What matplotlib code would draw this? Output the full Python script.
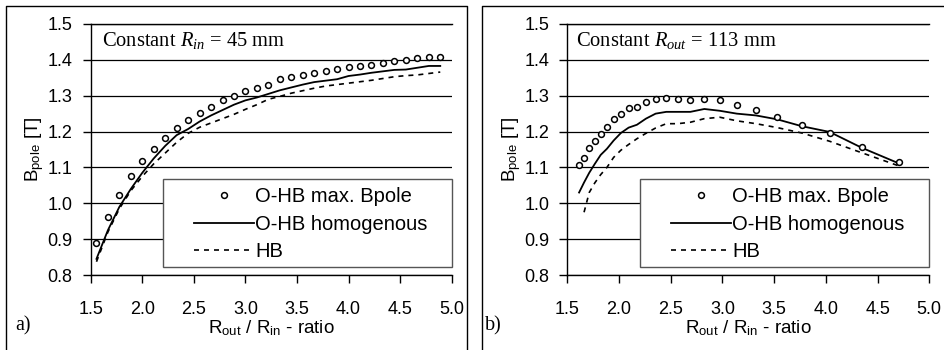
import matplotlib
matplotlib.use("Agg")
import matplotlib.pyplot as plt
from matplotlib.lines import Line2D
from matplotlib.patches import Rectangle

plt.rcParams['font.family'] = ['Liberation Sans', 'DejaVu Sans']
plt.rcParams['mathtext.fontset'] = 'custom'
plt.rcParams['mathtext.rm'] = 'Liberation Sans'
plt.rcParams['mathtext.it'] = 'Liberation Serif:italic'

# ---------------- data: panel a) constant Rin = 45 mm ----------------
xa = [1.556, 1.667, 1.778, 1.889, 2.000, 2.111, 2.222, 2.333, 2.444, 2.556,
      2.667, 2.778, 2.889, 3.000, 3.111, 3.222, 3.333, 3.444, 3.556, 3.667,
      3.778, 3.889, 4.000, 4.111, 4.222, 4.333, 4.444, 4.556, 4.667, 4.778, 4.889]
a_max = [0.890, 0.963, 1.023, 1.075, 1.118, 1.152, 1.183, 1.209, 1.231, 1.252,
         1.268, 1.287, 1.300, 1.313, 1.321, 1.331, 1.346, 1.351, 1.357, 1.363,
         1.369, 1.374, 1.379, 1.383, 1.387, 1.391, 1.396, 1.400, 1.405, 1.407, 1.408]
a_hom = [0.845, 0.925, 0.990, 1.040, 1.085, 1.125, 1.160, 1.190, 1.207, 1.228,
         1.245, 1.260, 1.275, 1.287, 1.295, 1.305, 1.315, 1.323, 1.331, 1.338,
         1.342, 1.346, 1.355, 1.359, 1.364, 1.368, 1.372, 1.373, 1.378, 1.383, 1.383]
a_hb = [0.837, 0.920, 0.985, 1.035, 1.075, 1.110, 1.140, 1.170, 1.195, 1.212,
        1.224, 1.236, 1.248, 1.262, 1.275, 1.290, 1.298, 1.307, 1.314, 1.321,
        1.327, 1.331, 1.335, 1.339, 1.343, 1.348, 1.353, 1.356, 1.358, 1.362, 1.366]

# ---------------- data: panel b) constant Rout = 113 mm ----------------
xb = [1.614, 1.662, 1.712, 1.766, 1.823, 1.883, 1.948, 2.018, 2.093, 2.173,
      2.260, 2.354, 2.457, 2.568, 2.690, 2.825, 2.974, 3.139, 3.324, 3.531,
      3.767, 4.036, 4.346, 4.708]
b_max = [1.106, 1.127, 1.153, 1.175, 1.192, 1.213, 1.235, 1.249, 1.265, 1.269,
         1.283, 1.292, 1.295, 1.291, 1.287, 1.291, 1.287, 1.274, 1.261, 1.240,
         1.219, 1.197, 1.157, 1.115]
b_hom = [1.030, 1.058, 1.085, 1.110, 1.135, 1.152, 1.175, 1.196, 1.211, 1.219,
         1.236, 1.250, 1.255, 1.255, 1.255, 1.263, 1.258, 1.250, 1.245, 1.234,
         1.215, 1.199, 1.155, 1.111]
xb_hb = xb[1:]
b_hb = [0.975, 1.030, 1.057, 1.080, 1.100, 1.128, 1.148, 1.164, 1.180,
        1.195, 1.210, 1.222, 1.222, 1.226, 1.236, 1.240, 1.230, 1.222, 1.211,
        1.196, 1.173, 1.141, 1.104]

xticks = [1.5, 2.0, 2.5, 3.0, 3.5, 4.0, 4.5, 5.0]
yticks = [0.8, 0.9, 1.0, 1.1, 1.2, 1.3, 1.4, 1.5]
labels = ["O-HB max. Bpole", "O-HB homogenous", "HB"]

W, H = 944, 350
fig = plt.figure(figsize=(W / 100, H / 100), dpi=100)

def px(x0, y0, x1, y1):
    return [x0 / W, 1 - y1 / H, (x1 - x0) / W, (y1 - y0) / H]

axa = fig.add_axes(px(90.7, 24, 451.7, 275))
axb = fig.add_axes(px(567.3, 24, 929.3, 275))

panels = [
    (axa, xa, a_max, xa, a_hom, xa, a_hb, r"Constant $R_{in}$ = 45 mm", "a)", 15, 0.030),
    (axb, xb, b_max, xb, b_hom, xb_hb, b_hb, r"Constant $R_{out}$ = 113 mm", "b)", 485, 0.024),
]

for ax, x1, y1, x2, y2, x3, y3, note, tag, tagx, notex in panels:
    ax.plot(x1, y1, 'o', ls='none', mfc='white', mec='black', ms=4.2, mew=1.1,
            label=labels[0], zorder=4)
    ax.plot(x2, y2, '-', color='black', lw=1.3, label=labels[1], zorder=3)
    ax.plot(x3, y3, color='black', lw=1.2, dashes=(3, 3), label=labels[2], zorder=3)
    ax.set_xlim(1.5, 5.0)
    ax.set_ylim(0.8, 1.5)
    ax.set_xticks(xticks)
    ax.set_xticklabels([f"{v:.1f}" for v in xticks])
    ax.set_yticks(yticks)
    ax.set_yticklabels([f"{v:.1f}" for v in yticks])
    ax.tick_params(axis='x', direction='out', length=6, width=1, pad=13, labelsize=13)
    ax.tick_params(axis='y', direction='out', length=6, width=1, pad=7, labelsize=13)
    ax.yaxis.grid(True, color='black', lw=0.9)
    ax.set_axisbelow(True)
    for s in ['left', 'bottom', 'top']:
        ax.spines[s].set_color('black')
        ax.spines[s].set_linewidth(1.0)
    ax.spines['right'].set_visible(False)
    ax.set_ylabel(r"B$_{\rm pole}$ [T]", fontsize=13.5, labelpad=1)
    ax.set_xlabel(r"R$_{\rm out}$ / R$_{\rm in}$ - ratio", fontsize=13.5, labelpad=0)
    ax.text(notex, 0.912, note, transform=ax.transAxes, va='baseline', ha='left',
            fontsize=14.8, family=['Liberation Serif', 'DejaVu Serif'])
    fig.text(tagx / W, 1 - 330 / H, tag, fontsize=14.5, va='baseline', ha='left',
             family=['Liberation Serif', 'DejaVu Serif'])
    # legend box
    ax.add_patch(Rectangle((0.201, 0.031), 0.799, 0.351, transform=ax.transAxes,
                           facecolor='white', edgecolor='#555555', lw=1.0,
                           zorder=5, clip_on=False))
    leg = ax.legend(loc='upper left', bbox_to_anchor=(0.286, 0.350),
                    borderaxespad=0, borderpad=0, fontsize=14.5, frameon=False,
                    handlelength=3.0, handletextpad=0.05, labelspacing=0.42)
    leg.set_zorder(6)

# outer panel frames
def fline(xs, ys):
    fig.add_artist(Line2D([x / W for x in xs], [1 - y / H for y in ys],
                          color='black', lw=1.0))

fline([5.7, 5.7, 466.5, 466.5], [352, 6, 6, 352])
fline([482, 482, 944], [352, 6, 6])

fig.savefig("out.png", dpi=100)
